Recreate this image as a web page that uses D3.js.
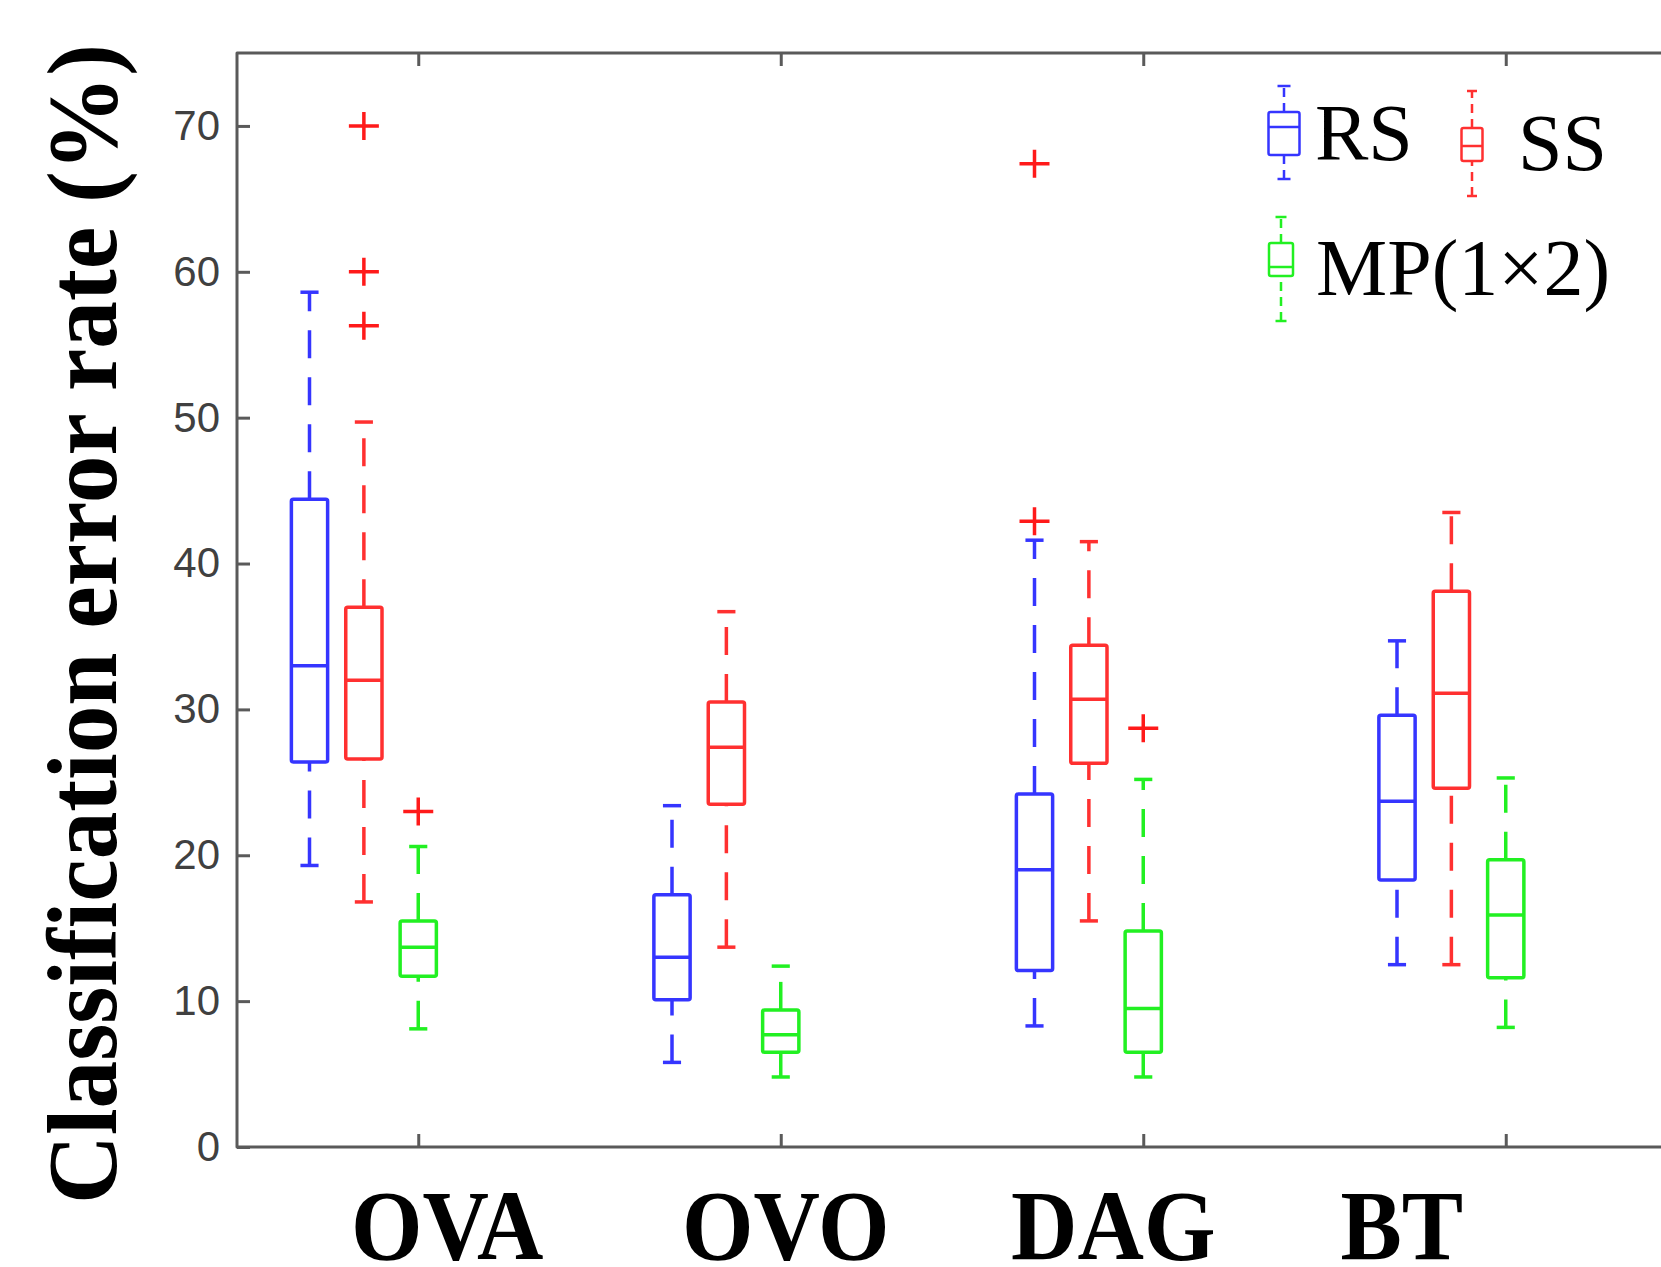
<!DOCTYPE html>
<html>
<head>
<meta charset="utf-8">
<script src="https://cdn.jsdelivr.net/npm/d3@7"></script>
<style>
  body { margin: 0; background: #fff; }
</style>
</head>
<body>
<div id="chart-area"></div>
<script>
const categories = ["OVA", "OVO", "DAG", "BT"]
const seriesNames = ["RS", "SS", "MP(1×2)"]

// [lower whisker, Q1, median, Q3, upper whisker] for each category
const rsStats = [[19.3, 26.4, 33.0, 44.4, 58.6], [5.8, 10.1, 13.0, 17.3, 23.4], [8.3, 12.1, 19.0, 24.2, 41.6], [12.5, 18.3, 23.7, 29.6, 34.7]]
const ssStats = [[16.8, 26.6, 32.0, 37.0, 49.7], [13.7, 23.5, 27.4, 30.5, 36.7], [15.5, 26.3, 30.7, 34.4, 41.5], [12.5, 24.6, 31.1, 38.1, 43.5]]
const mpStats = [[8.1, 11.7, 13.7, 15.5, 20.6], [4.8, 6.5, 7.7, 9.4, 12.4], [4.8, 6.5, 9.5, 14.8, 25.2], [8.2, 11.6, 15.9, 19.7, 25.3]]

const rsOutliers = [[], [], [67.4, 42.9], []]
const ssOutliers = [[70.0, 60.0, 56.3], [], [], []]
const mpOutliers = [[23.0], [], [28.7], []]

const yTicks = [0, 10, 20, 30, 40, 50, 60, 70]

const w = 1661
const h = 1267

const colors = ["#3535ff", "#ff3030", "#22f022"]
const offsets = [-0.3, -0.15, 0]   // box position inside each group
const stats = [rsStats, ssStats, mpStats]
const outliers = [rsOutliers, ssOutliers, mpOutliers]

const svg = d3.select("#chart-area")
   .append("svg")
   .attr("width", w)
   .attr("height", h)

const x = d3.scaleLinear().domain([0.5, 4.5]).range([237, 1687])
const y = d3.scaleLinear().domain([0, 75]).range([1147, 53])

const axisColor = "#5a5a5a"

// frame: left, top, bottom (right side is off the page)
svg.append("path")
   .attr("d", `M${x(4.5)},${y(75)}H${x(0.5)}V${y(0)}H${x(4.5)}`)
   .attr("fill", "none")
   .attr("stroke", axisColor)
   .attr("stroke-width", 3)
   .attr("stroke-linejoin", "round")

const yAxis = d3.axisLeft(y)
   .tickValues(yTicks)
   .tickSize(-13)
   .tickSizeOuter(0)
   .tickPadding(17)

svg.append("g")
   .attr("transform", `translate(${x(0.5)},0)`)
   .call(yAxis)
   .call(g => g.select(".domain").remove())
   .call(g => g.selectAll("line").attr("stroke", axisColor).attr("stroke-width", 3))
   .call(g => g.selectAll("text")
      .attr("fill", "#404040")
      .style("font-family", "'Liberation Sans', Arial, sans-serif")
      .style("font-size", "42px"))

const xBottom = d3.axisBottom(x).tickValues([1, 2, 3, 4]).tickSize(-13).tickSizeOuter(0).tickFormat("")
const xTop = d3.axisTop(x).tickValues([1, 2, 3, 4]).tickSize(-13).tickSizeOuter(0).tickFormat("")

svg.append("g")
   .attr("transform", `translate(0,${y(0)})`)
   .call(xBottom)
   .call(g => g.select(".domain").remove())
   .call(g => g.selectAll("line").attr("stroke", axisColor).attr("stroke-width", 3))

svg.append("g")
   .attr("transform", `translate(0,${y(75)})`)
   .call(xTop)
   .call(g => g.select(".domain").remove())
   .call(g => g.selectAll("line").attr("stroke", axisColor).attr("stroke-width", 3))

// category labels sit a bit off the ticks in the original
const labelShift = [29, 5, -30, -104]
svg.selectAll(".cat-label")
   .data(categories)
   .enter()
   .append("text")
   .attr("class", "cat-label")
   .attr("transform", (d, i) => `translate(${x(i + 1) + labelShift[i]},1259) scale(0.92,1)`)
   .attr("text-anchor", "middle")
   .style("font-family", "'Liberation Serif', 'Times New Roman', serif")
   .style("font-weight", "bold")
   .style("font-size", "100px")
   .text(d => d)

svg.append("text")
   .attr("transform", "translate(116,624) rotate(-90)")
   .attr("text-anchor", "middle")
   .attr("textLength", 1160)
   .attr("lengthAdjust", "spacingAndGlyphs")
   .style("font-family", "'Liberation Serif', 'Times New Roman', serif")
   .style("font-weight", "bold")
   .style("font-size", "100px")
   .text("Classification error rate (%)")

// boxes
const boxHalf = x(1.05) - x(1)
const capHalf = x(1.025) - x(1)

stats.forEach((series, si) => {
   const g = svg.append("g")
      .attr("stroke", colors[si])
      .attr("stroke-width", 3.5)
      .attr("fill", "none")
      .attr("stroke-linecap", "butt")

   const boxes = g.selectAll(".box")
      .data(series.map((s, ci) => ({ s: s, cx: x(ci + 1 + offsets[si]) })))
      .enter()
      .append("g")
      .attr("class", "box")

   // whiskers, drawn from the lower value upward
   boxes.append("line")
      .attr("x1", d => d.cx).attr("x2", d => d.cx)
      .attr("y1", d => y(d.s[0])).attr("y2", d => y(d.s[1]))
      .attr("stroke-dasharray", "28,19")
   boxes.append("line")
      .attr("x1", d => d.cx).attr("x2", d => d.cx)
      .attr("y1", d => y(d.s[3])).attr("y2", d => y(d.s[4]))
      .attr("stroke-dasharray", "28,19")

   boxes.append("line")
      .attr("x1", d => d.cx - capHalf).attr("x2", d => d.cx + capHalf)
      .attr("y1", d => y(d.s[0])).attr("y2", d => y(d.s[0]))
   boxes.append("line")
      .attr("x1", d => d.cx - capHalf).attr("x2", d => d.cx + capHalf)
      .attr("y1", d => y(d.s[4])).attr("y2", d => y(d.s[4]))

   boxes.append("rect")
      .attr("x", d => d.cx - boxHalf)
      .attr("width", boxHalf * 2)
      .attr("y", d => y(d.s[3]))
      .attr("height", d => y(d.s[1]) - y(d.s[3]))
      .attr("rx", 2)

   boxes.append("line")
      .attr("x1", d => d.cx - boxHalf).attr("x2", d => d.cx + boxHalf)
      .attr("y1", d => y(d.s[2])).attr("y2", d => y(d.s[2]))
})

// outliers are all red '+' like matlab's default
const outPts = []
outliers.forEach((series, si) => {
   series.forEach((vals, ci) => {
      vals.forEach(v => outPts.push({ px: x(ci + 1 + offsets[si]), py: y(v) }))
   })
})

svg.selectAll(".outlier")
   .data(outPts)
   .enter()
   .append("path")
   .attr("class", "outlier")
   .attr("d", d => `M${d.px - 15},${d.py}H${d.px + 15}M${d.px},${d.py - 14}V${d.py + 14}`)
   .attr("stroke", "#ff1a1a")
   .attr("stroke-width", 3.5)
   .attr("fill", "none")

// legend: small boxplot icons pasted next to the names
const legendItems = [
   { cx: 1284, bw: 31, top: 112, bottom: 155, med: 127, capTop: 86, capBottom: 179, cap: 13, tx: 1315, ty: 160 },
   { cx: 1472, bw: 21, top: 128, bottom: 161, med: 146, capTop: 91, capBottom: 196, cap: 10, tx: 1518, ty: 170 },
   { cx: 1281, bw: 24, top: 243, bottom: 276, med: 267, capTop: 217, capBottom: 321, cap: 11, tx: 1316, ty: 295 }
]

const legend = svg.selectAll(".legend")
   .data(legendItems)
   .enter()
   .append("g")
   .attr("class", "legend")

legend.each(function (d, i) {
   const g = d3.select(this)
   const ic = g.append("g")
      .attr("stroke", colors[i])
      .attr("stroke-width", 2.5)
      .attr("fill", "none")
   ic.append("rect")
      .attr("x", d.cx - d.bw / 2).attr("y", d.top)
      .attr("width", d.bw).attr("height", d.bottom - d.top)
      .attr("rx", 2)
   ic.append("line")
      .attr("x1", d.cx - d.bw / 2).attr("x2", d.cx + d.bw / 2)
      .attr("y1", d.med).attr("y2", d.med)
   ic.append("line")
      .attr("x1", d.cx).attr("x2", d.cx)
      .attr("y1", d.top).attr("y2", d.capTop)
      .attr("stroke-dasharray", "9,6")
   ic.append("line")
      .attr("x1", d.cx).attr("x2", d.cx)
      .attr("y1", d.capBottom).attr("y2", d.bottom)
      .attr("stroke-dasharray", "9,6")
   ic.append("line")
      .attr("x1", d.cx - d.cap / 2).attr("x2", d.cx + d.cap / 2)
      .attr("y1", d.capTop).attr("y2", d.capTop)
   ic.append("line")
      .attr("x1", d.cx - d.cap / 2).attr("x2", d.cx + d.cap / 2)
      .attr("y1", d.capBottom).attr("y2", d.capBottom)

   g.append("text")
      .attr("x", d.tx)
      .attr("y", d.ty)
      .style("font-family", "'Liberation Serif', 'Times New Roman', serif")
      .style("font-size", "80px")
      .attr("fill", "#000")
      .text(seriesNames[i])
})
</script>
</body>
</html>
